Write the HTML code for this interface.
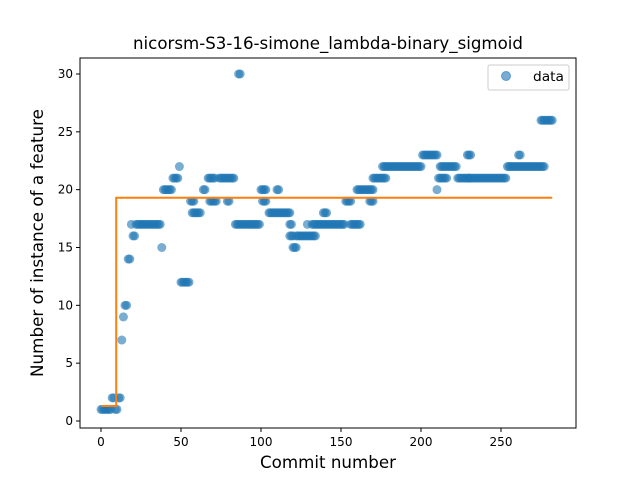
<!DOCTYPE html>
<html><head><meta charset="utf-8"><style>
body{margin:0;background:#fff;}
svg{display:block;font-family:"DejaVu Sans","Liberation Sans",sans-serif;}
</style></head><body>
<svg id="chart" width="640" height="480">
<rect x="0" y="0" width="640" height="480" fill="#fff"/>
<text x="328" y="49" text-anchor="middle" font-size="16.5" textLength="390" lengthAdjust="spacingAndGlyphs">nicorsm-S3-16-simone_lambda-binary_sigmoid</text>
<text x="328" y="468" text-anchor="middle" font-size="16.5" textLength="136" lengthAdjust="spacingAndGlyphs">Commit number</text>
<text x="0" y="0" transform="translate(43,243) rotate(-90)" text-anchor="middle" font-size="16.5" textLength="268" lengthAdjust="spacingAndGlyphs">Number of instance of a feature</text>
<g id="marks"></g>
<g id="axes"></g>
<g>
<rect x="488" y="65" width="81" height="25" rx="2" fill="#fff" stroke="#ccc" stroke-width="1"/>
<circle cx="506" cy="76" r="4.5" fill="#1f77b4" fill-opacity="0.6" stroke="#1f77b4" stroke-opacity="0.6"/>
<text x="533" y="81" font-size="13" textLength="31" lengthAdjust="spacingAndGlyphs">data</text>
</g>
</svg>
<script>
const runStart = [0,7,9,11,13,14,15,17,19,20,22,38,39,45,49,50,56,57,64,67,68,74,79,84,86,100,101,105,110,118,118,120,122,129,132,139,153,156,160,168,170,176,201,210,211,212,223,229,230,254,261,275];
const runEnd   = [6,8,10,12,13,14,16,18,19,21,37,38,44,48,49,55,58,62,65,71,72,83,80,99,87,103,103,118,111,120,119,122,134,129,152,141,156,162,170,170,178,200,210,210,216,222,230,231,253,277,262,282];
const runValue = [1,2,1,2,7,9,10,14,17,16,17,15,20,21,22,12,19,18,20,21,19,21,19,17,30,20,19,18,20,16,17,15,16,17,17,18,19,17,20,19,21,22,23,20,21,22,21,23,21,22,23,26];
const fitX = [0,9.5,9.5,282];
const fitY = [1.3,1.3,19.3,19.3];
const xTicks = [0,50,100,150,200,250];
const yTicks = [0,5,10,15,20,25,30];

const L=80,R=576,T=58,B=428;
const X=v=>101+v*1.6;
const Y=v=>421-v*11.567;
const NS="http://www.w3.org/2000/svg";
const marks=document.getElementById('marks');
for(let i=0;i<runStart.length;i++){
  for(let c=runStart[i];c<=runEnd[i];c++){
    const p=document.createElementNS(NS,'circle');
    p.setAttribute('cx',X(c));p.setAttribute('cy',Y(runValue[i]));p.setAttribute('r',4.5);
    p.setAttribute('fill','#1f77b4');p.setAttribute('fill-opacity','0.6');
    
    
    marks.appendChild(p);
  }
}
const fl=document.createElementNS(NS,'polyline');
fl.setAttribute('points',fitX.map((x,i)=>X(x)+','+Y(fitY[i])).join(' '));
fl.setAttribute('fill','none');fl.setAttribute('stroke','#ff7f0e');fl.setAttribute('stroke-width','2');


marks.appendChild(fl);
const ax=document.getElementById('axes');
const fr=document.createElementNS(NS,'rect');
fr.setAttribute('x',L);fr.setAttribute('y',T);fr.setAttribute('width',R-L);fr.setAttribute('height',B-T);
fr.setAttribute('fill','none');fr.setAttribute('stroke','#000');fr.setAttribute('stroke-width','1');


ax.appendChild(fr);
xTicks.forEach(t=>{
  const l=document.createElementNS(NS,'line');
  l.setAttribute('x1',X(t));l.setAttribute('x2',X(t));l.setAttribute('y1',B);l.setAttribute('y2',B+4);l.setAttribute('stroke','#000');
  
  
  ax.appendChild(l);
  const s=document.createElementNS(NS,'text');
  s.setAttribute('x',X(t));s.setAttribute('y',B+18);s.setAttribute('text-anchor','middle');s.setAttribute('font-size','12');
  s.textContent=t;
  
  
  ax.appendChild(s);
});
yTicks.forEach(t=>{
  const l=document.createElementNS(NS,'line');
  l.setAttribute('x1',L-4);l.setAttribute('x2',L);l.setAttribute('y1',Y(t));l.setAttribute('y2',Y(t));l.setAttribute('stroke','#000');
  
  
  ax.appendChild(l);
  const s=document.createElementNS(NS,'text');
  s.setAttribute('x',L-7);s.setAttribute('y',Y(t)+4);s.setAttribute('text-anchor','end');s.setAttribute('font-size','12');
  s.textContent=t;
  
  
  ax.appendChild(s);
});
</script>
</body></html>
